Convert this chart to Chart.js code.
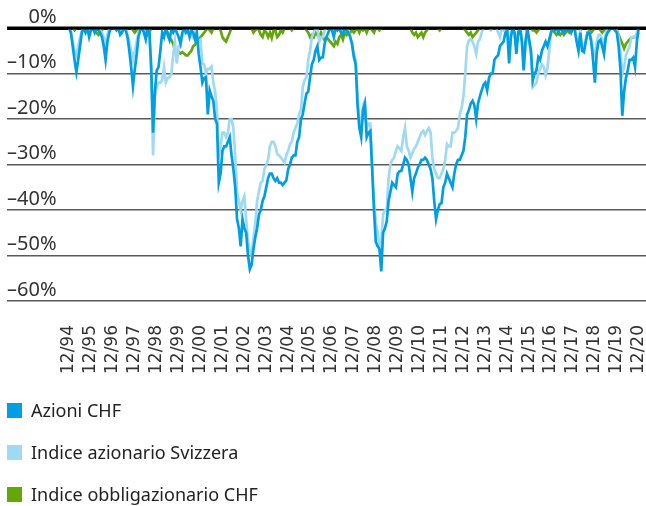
<!DOCTYPE html>
<html>
<head>
<meta charset="utf-8">
<script src="https://cdn.jsdelivr.net/npm/chart.js@4.4.1/dist/chart.umd.min.js"></script>
<style>
    body { margin: 0; background: #fff; font-family: "Noto Sans", sans-serif; }
    #wrap { position: relative; width: 646px; height: 506px; }
    #drawdownChart { position: absolute; left: 0; top: 0; }
    #legend { position: absolute; left: 7px; top: 389px; }
    .item { display: flex; align-items: center; height: 42px; font-size: 18px; color: #222; }
    .box { width: 15px; height: 15px; margin-right: 9px; }
</style>
</head>
<body>
<div id="wrap">
    <canvas id="drawdownChart" width="646" height="409"></canvas>
    <div id="legend"></div>
</div>
<script>
const seriesNames = ['Azioni CHF', 'Indice azionario Svizzera', 'Indice obbligazionario CHF'];
const seriesColors = ['#009fe3', '#9fd9f4', '#64a70b'];

const yearLabels = ['12/94', '12/95', '12/96', '12/97', '12/98', '12/99', '12/00', '12/01', '12/02',
    '12/03', '12/04', '12/05', '12/06', '12/07', '12/08', '12/09', '12/10', '12/11', '12/12',
    '12/13', '12/14', '12/15', '12/16', '12/17', '12/18', '12/19', '12/20'];
const yTickLabels = ['0%', '–10%', '–20%', '–30%', '–40%', '–50%', '–60%'];

// monthly drawdown in %, index 0 = 12/94 ... index 312 = 12/20
const azioniCHF = [0,
    -1, -4, -7, -9.7, -7, -4, -1, 0, -1, 0, -2, -0.5,                       // 1995
    0, -1, 0, -0.5, -1, -2, -4, -7, -3, -1, 0, 0,                            // 1996
    0, -0.5, 0, -1.5, -1, 0, -0.5, -2, -5, -8.6, -12.8, -9,                  // 1997
    -6, -2, -0.5, 0, -1, -2.5, 0, -1, -8.6, -23, -14, -9.3,                  // 1998
    -8.6, -5, -1, -2, 0, -1.5, -2.6, -0.5, -1, 0, -1, -2,                    // 1999
    -3.4, -1, 0, -1, -0.5, -2, -0.5, -1, -2.5, -1, -5.7, -8.6,               // 2000
    -12, -11, -10.8, -19, -13.7, -15, -16, -20, -21, -34, -32, -27,          // 2001
    -26, -26, -25, -24, -28, -31, -35, -42, -44, -48, -42, -44,              // 2002
    -45, -50, -53, -52, -48.5, -46, -44, -41, -40, -38, -37, -35,            // 2003
    -33, -32, -32, -33, -33.6, -33, -34, -34, -34.5, -34, -33.5, -31,        // 2004
    -30, -28.5, -28, -28, -25, -24, -20, -19, -16.6, -14.4, -14, -10.8,      // 2005
    -8, -7, -5, -4, -7, -6.5, -6.4, -3.4, -2, -1, 0, -0.5,                   // 2006
    -2, 0, -0.5, 0, -1, -1.5, 0, -0.5, -1, -2, -3.4, -6.4,                   // 2007
    -8, -17, -22, -24, -18, -16.6, -24, -23, -22.6, -31, -40, -47,           // 2008
    -48, -48.5, -53.5, -45, -44, -42.5, -38, -36, -34, -34.5, -35, -32,      // 2009
    -31.5, -31.4, -30, -28.5, -29, -30, -33, -36, -33, -32, -30.7, -30,      // 2010
    -29, -29, -28.5, -29, -30, -31, -33, -38, -42, -40, -38.7, -38.5,        // 2011
    -35, -34, -32, -33, -34, -35, -32, -30, -29, -29, -28, -27,              // 2012
    -24, -19, -18, -16.6, -16, -17, -20, -16.6, -15, -13.7, -12.5, -12,      // 2013
    -13.7, -11, -10, -10, -7, -6.4, -6, -4, -3.5, -3, -1, -0.5,              // 2014
    -7.8, -2, 0, -1, -5.7, -1, 0, -3, -9.3, -3, 0, -2.6,                     // 2015
    -5, -11.5, -10, -9.3, -6.4, -7, -5, -4, -3, -4, -2.5, -1,                // 2016
    0, -0.5, 0, -1, 0, -0.5, -1, 0, -0.5, 0, -1, 0,                          // 2017
    -0.5, -3, -5, -1, -5, -5.3, -3, -1, -1, -3, -7, -12,                     // 2018
    -5.5, -3, -2.6, -4, -5.7, -2, -1, -0.5, 0, 0, -0.5, -1,                  // 2019
    -4, -9, -19.3, -14, -11, -9.3, -7, -7, -6.5, -8.6, -3, 0                 // 2020
];

const indiceAzionario = [0,
    -1, -3, -5, -6, -4, -2, -0.5, 0, -0.5, 0, -1.5, 0,                       // 1995
    0, -0.5, 0, 0, -0.5, -1, -2, -4, -1.5, 0, 0, 0,                          // 1996
    0, 0, 0, -1, -0.5, 0, 0, -1.5, -3, -5, -7, -5,                           // 1997
    -3, -1, 0, 0, -0.5, -1.5, 0, -1, -10, -28, -15, -13,                     // 1998
    -12, -12, -11.5, -8.6, -12, -11, -10.8, -10, -6, -3, -7.8, -4,           // 1999
    -4, -2, -1, 0, -1, -0.5, -1, -2, -1, -2, -3, -2.6,                       // 2000
    -7.8, -8, -10, -9, -9, -8.5, -12, -14, -18, -28, -26, -23,               // 2001
    -23, -24, -23, -20, -20, -22, -28, -36, -38, -40, -38, -37,              // 2002
    -42, -47, -49, -50, -46, -43, -38, -36, -34, -33.6, -31, -30,            // 2003
    -29, -26, -25, -25, -26, -27.7, -28, -28.5, -29, -29.6, -28, -27,        // 2004
    -25.5, -25, -23, -22, -21, -19, -18, -13, -11.5, -10.8, -7, -5,          // 2005
    -2, -1, 0, 0, -3, -2, -2, -0.5, 0, 0, 0, 0,                              // 2006
    -1, 0, 0, 0, -0.5, -1, 0, 0, -0.5, -2, -4, -6,                           // 2007
    -7, -15, -20, -22, -17, -16, -22, -21, -21, -30, -38, -42.5,             // 2008
    -45, -48, -47, -41, -40, -40, -33, -30, -29, -28.5, -27, -26,            // 2009
    -26.5, -27, -24, -22, -26, -27, -28.5, -27.5, -26.5, -26, -25, -24,      // 2010
    -23, -22.6, -23.5, -22.6, -22, -23, -28.5, -31, -32, -33, -33, -32,      // 2011
    -31, -29, -25.5, -26, -26, -23, -23, -22.6, -22, -19, -17.5, -15,        // 2012
    -10, -4, -2.7, -2.5, -3, -4, -5.7, -3, -2.5, -1, 0, 0,                   // 2013
    0, 0, -0.5, 0, 0, 0, -1, -2, 0, -0.5, 0, 0,                              // 2014
    -5, -1, 0, -1.5, -4, -1, 0, -2, -8, -4, -1, -3,                          // 2015
    -6, -13, -12.5, -12, -10, -9, -8, -8.5, -10.4, -9, -5, -1,               // 2016
    0, 0, 0, -0.5, 0, 0, -0.5, 0, 0, 0, -0.5, 0,                             // 2017
    0, -2.5, -4.5, -1, -4, -4.5, -2.5, -1, -1, -2.5, -5, -6,                 // 2018
    -3, -1.5, -1.5, -2.5, -4, -1, 0, 0, 0, 0, 0, -0.5,                       // 2019
    -2, -5, -10, -8.6, -6, -5, -4, -2, -2, -2, -1, 0                         // 2020
];

const indiceObbligazionario = [0,
    0, 0, -0.5, 0, 0, 0, 0, 0, 0, 0, 0, 0,                                   // 1995
    0, -0.5, -1, -1.5, -1, -0.5, 0, 0, 0, 0, 0, 0,                           // 1996
    0, 0, 0, 0, 0, 0, 0, 0, 0, 0, -0.5, -1,                                  // 1997
    -0.5, 0, 0, 0, -0.5, -1, -1.5, -1, 0, 0, 0, 0,                           // 1998
    0, 0, 0, 0, -0.5, -1, -2, -2.7, -3.4, -5, -5, -5.3,                      // 1999
    -5.6, -5.3, -5.6, -6, -6, -5.5, -5, -4, -3.7, -3, -2.6, -2,              // 2000
    -1.5, -1, -0.5, 0, -0.5, -1, 0, 0, 0, 0, -0.5, -2,                       // 2001
    -2.6, -3, -2, -1, 0, 0, 0, 0, 0, 0, 0, 0,                                // 2002
    0, 0, 0, 0, -1, -0.5, 0, -0.5, -1.5, -2, -0.5, -1,                       // 2003
    -2, -1, -2.2, -0.5, -0.5, -2, -1.5, -0.5, -1, 0, 0, 0,                   // 2004
    0, -0.5, 0, 0, 0, 0, 0, 0, 0, -0.5, -1, -2,                              // 2005
    -1.5, -2, -1, -1.5, -2, -1, -2, -2.7, -2, -2.5, -3, -3.5,                // 2006
    -4, -3, -3.5, -2, -1.5, -2.5, -1, -1.5, -0.5, -1, -0.5, -1,              // 2007
    -0.5, 0, -1, 0, -0.5, 0, -1, 0, 0, -0.5, -1, 0,                          // 2008
    0, -0.5, 0, 0, 0, 0, 0, 0, 0, 0, 0, 0,                                   // 2009
    0, 0, 0, 0, 0, 0, 0, -1, -1.5, -1, -2, -1.5,                             // 2010
    -1, -2, -1, -0.5, 0, 0, 0, 0, 0, 0, -0.5, 0,                             // 2011
    0, 0, 0, 0, 0, 0, 0, 0, 0, 0, 0, 0,                                      // 2012
    -0.5, -1, -1.5, -1, -2, -1.5, -1, -0.5, 0, 0, 0, 0,                      // 2013
    0, 0, 0, 0, 0, 0, 0, 0, 0, 0, 0, 0,                                      // 2014
    0, 0, 0, 0, 0, 0, 0, 0, 0, 0, -0.5, 0,                                   // 2015
    0, -0.5, -0.5, -1, -0.5, 0, 0, 0, 0, 0, 0, 0,                            // 2016
    -0.5, -1, -1.5, -1, -1.5, -1, -1.5, -1, -0.5, -1, -0.5, 0,               // 2017
    0, 0, 0, -0.5, 0, 0, 0, 0, -0.5, -1, -0.5, 0,                            // 2018
    0, 0, -0.5, -1, -0.5, 0, 0, 0, 0, 0, 0, -0.5,                            // 2019
    -1.5, -2.5, -3.4, -4.5, -3.5, -3, -2.5, -2.2, -2, -2, -1.5, -1           // 2020
];

document.addEventListener('DOMContentLoaded', function () {
    buildLegend();
    initializeChart();
});

function toPoints(values) {
    // x = month index counted from 12/94
    return values.map((v, i) => ({ x: i, y: v }));
}

function buildLegend() {
    const legend = document.getElementById('legend');
    seriesNames.forEach((name, i) => {
        const item = document.createElement('div');
        item.className = 'item';
        const box = document.createElement('span');
        box.className = 'box';
        box.style.background = seriesColors[i];
        const label = document.createElement('span');
        label.textContent = name;
        item.appendChild(box);
        item.appendChild(label);
        legend.appendChild(item);
    });
}

// black 0% line drawn over the lines, like in the original
const zeroLine = {
    id: 'zeroLine',
    afterDatasetsDraw(chart) {
        const { ctx, chartArea, scales } = chart;
        const y = scales.y.getPixelForValue(0);
        ctx.save();
        ctx.strokeStyle = '#000';
        ctx.lineWidth = 3;
        ctx.beginPath();
        ctx.moveTo(chartArea.left, y);
        ctx.lineTo(chartArea.right, y);
        ctx.stroke();
        ctx.restore();
    }
};

function initializeChart() {
    const allSeries = [azioniCHF, indiceAzionario, indiceObbligazionario];
    const datasets = allSeries.map((values, i) => ({
        label: seriesNames[i],
        data: toPoints(values),
        borderColor: seriesColors[i],
        backgroundColor: seriesColors[i],
        borderWidth: 2.7,
        pointRadius: 0,
        tension: 0
    }));

    const ctx = document.getElementById('drawdownChart').getContext('2d');
    new Chart(ctx, {
        type: 'line',
        data: { datasets: datasets },
        plugins: [zeroLine],
        options: {
            responsive: false,
            animation: false,
            devicePixelRatio: 1,
            layout: { padding: { left: 7, right: 0, top: 28, bottom: 11 } },
            plugins: {
                legend: { display: false },
                tooltip: { enabled: false }
            },
            scales: {
                x: {
                    type: 'linear',
                    min: -34,
                    max: 316,
                    afterBuildTicks: axis => {
                        axis.ticks = yearLabels.map((_, k) => ({ value: k * 12 }));
                    },
                    afterFit: axis => {
                        axis.paddingLeft = 0;
                        axis.paddingRight = 0;
                    },
                    grid: { display: false, drawTicks: false },
                    border: { display: false },
                    ticks: {
                        autoSkip: false,
                        minRotation: 90,
                        maxRotation: 90,
                        padding: 24,
                        color: '#333',
                        font: { family: 'DejaVu Sans', size: 17 },
                        callback: value => yearLabels[value / 12]
                    }
                },
                y: {
                    min: -60,
                    max: 0,
                    afterBuildTicks: axis => {
                        axis.ticks = yTickLabels.map((_, k) => ({ value: -10 * k }));
                    },
                    grid: {
                        drawTicks: false,
                        color: c => (c.tick && c.tick.value === 0 ? '#000' : '#5a5a5a'),
                        lineWidth: c => (c.tick && c.tick.value === 0 ? 3 : 1.5)
                    },
                    border: { display: false },
                    ticks: {
                        mirror: true,
                        crossAlign: 'far',
                        padding: 0,
                        labelOffset: -11,
                        color: '#333',
                        font: { family: 'Noto Sans', size: 20 },
                        callback: value => yTickLabels[Math.round(-value / 10)]
                    }
                }
            }
        }
    });
}
</script>
</body>
</html>
